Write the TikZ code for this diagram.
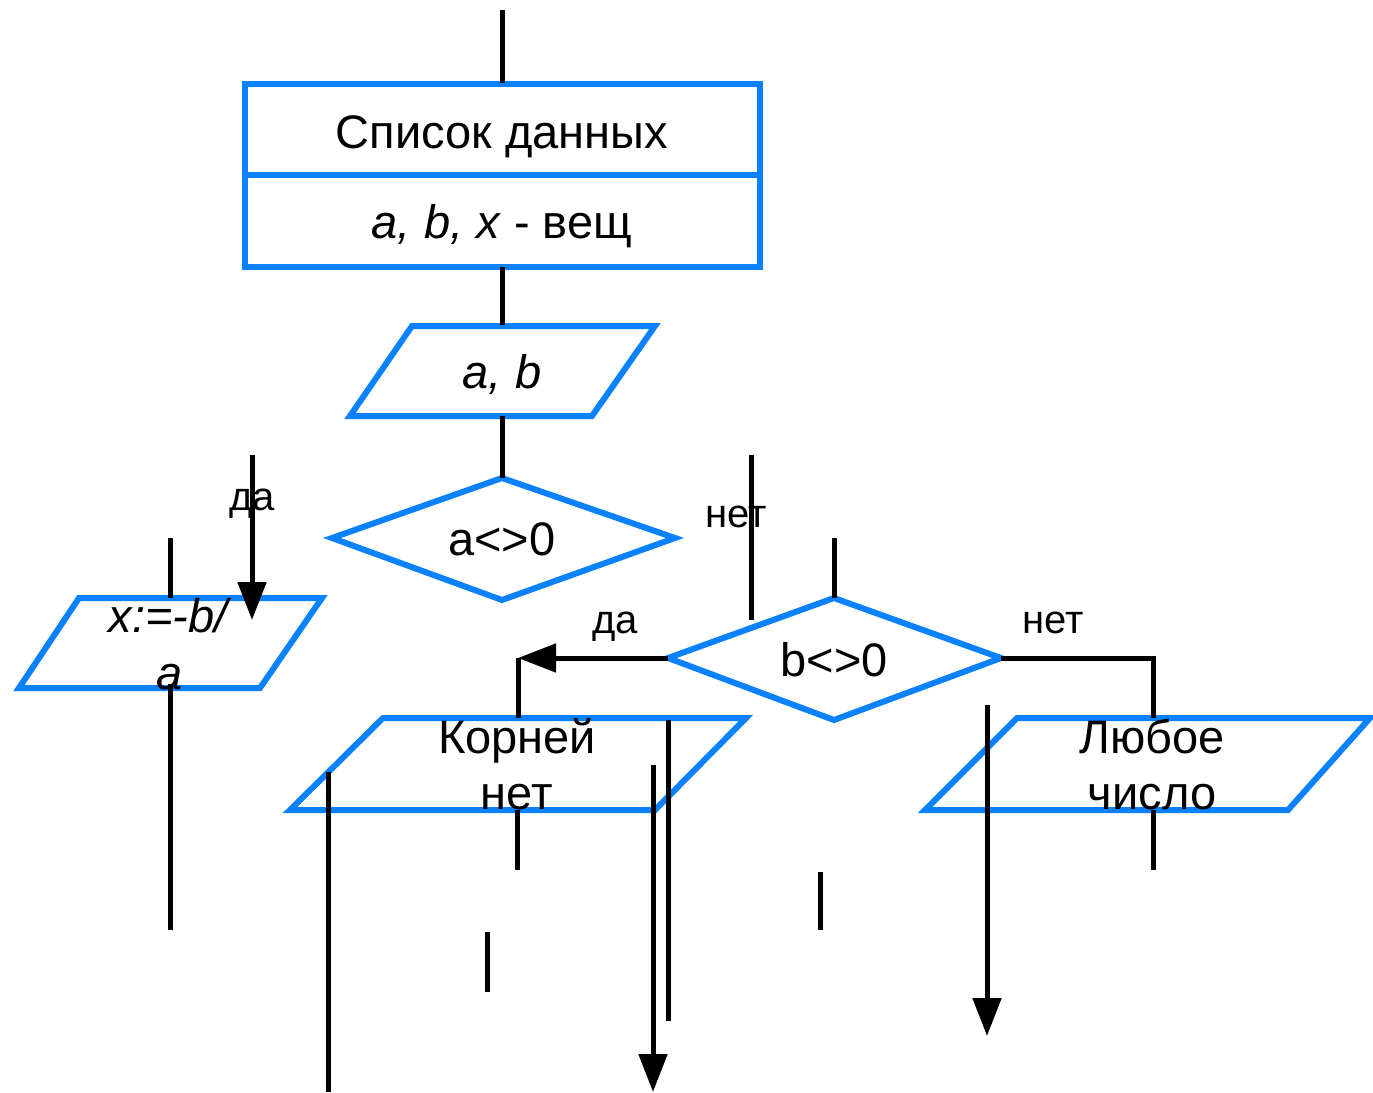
\documentclass[tikz,border=0pt]{standalone}
\usepackage{fontspec}
\setmainfont{Liberation Sans}
\usetikzlibrary{arrows.meta}
\definecolor{fcblue}{RGB}{10,130,255}
\begin{document}
\begin{tikzpicture}[x=1pt,y=-1pt,
  blk/.style={line width=6pt, draw=fcblue, line join=miter},
  con/.style={line width=5pt, draw=black},
  arr/.style={con, -{Triangle[length=38pt,width=28pt]}},
  txt/.style={font=\fontsize{47}{54}\selectfont, inner sep=0pt, anchor=base},
  lbl/.style={font=\fontsize{40}{46}\selectfont, inner sep=0pt, anchor=base}]
\useasboundingbox (0,0) rectangle (1373,1092);

% ---- shapes (blue) ----
\draw[blk] (245,84) rectangle (760,175);
\draw[blk] (245,175) rectangle (760,267);
\draw[blk] (412,326) -- (655,326) -- (592,416) -- (350,416) -- cycle;
\draw[blk] (502,478) -- (675,538) -- (502,600) -- (332,538) -- cycle;
\draw[blk] (79,598) -- (322,598) -- (260,688) -- (19,688) -- cycle;
\draw[blk] (834,598) -- (1001,658) -- (834,720) -- (668,658) -- cycle;
\draw[blk] (383,718) -- (746,718) -- (655,810) -- (290,810) -- cycle;
\draw[blk] (1017,718) -- (1370,718) -- (1288,810) -- (925,810) -- cycle;

% ---- named coordinates ----
\coordinate (t0) at (502,10);   \coordinate (t1) at (502,83);
\coordinate (r1) at (502,267);  \coordinate (r2) at (502,325);
\coordinate (p1) at (502,416);  \coordinate (p2) at (502,478);
\coordinate (dA) at (252,455);  \coordinate (dB) at (252,620);
\coordinate (s1) at (170,538);  \coordinate (s2) at (170,598);
\coordinate (x1) at (170,684);  \coordinate (x2) at (170,930);
\coordinate (n1) at (751,455);  \coordinate (n2) at (751,620);
\coordinate (b1) at (834,538);  \coordinate (b2) at (834,598);
\coordinate (bl) at (668,658);  \coordinate (bc) at (518,658);
\coordinate (bd) at (518,718);
\coordinate (br) at (1001,658); \coordinate (bk) at (1153,658);
\coordinate (bm) at (1153,718);
\coordinate (k1) at (517,810);  \coordinate (k2) at (517,870);
\coordinate (v1) at (668,720);  \coordinate (v2) at (668,1021);
\coordinate (w1) at (653,765);  \coordinate (w2) at (653,1092);
\coordinate (u1) at (328,772);  \coordinate (u2) at (328,1092);
\coordinate (q1) at (487,932);  \coordinate (q2) at (487,992);
\coordinate (m1) at (820,872);  \coordinate (m2) at (820,930);
\coordinate (l1) at (1153,810); \coordinate (l2) at (1153,870);
\coordinate (z1) at (987,705);  \coordinate (z2) at (987,1036);

% ---- connectors ----
\draw[con] (t0) -- (t1);
\draw[con] (r1) -- (r2);
\draw[con] (p1) -- (p2);
\draw[arr] (dA) -- (dB);
\draw[con] (s1) -- (s2);
\draw[con] (x1) -- (x2);
\draw[con] (n1) -- (n2);
\draw[con] (b1) -- (b2);
\draw[arr] (bl) -- (bc);
\draw[con] (bc) -- (bd);
\draw[con] (br) -- (bk) -- (bm);
\draw[con] (k1) -- (k2);
\draw[con] (v1) -- (v2);
\draw[arr] (w1) -- (w2);
\draw[con] (u1) -- (u2);
\draw[con] (q1) -- (q2);
\draw[con] (m1) -- (m2);
\draw[con] (l1) -- (l2);
\draw[arr] (z1) -- (z2);

% ---- texts ----
\node[txt] (T1) at (502,148) {Список данных};
\node[txt] (T2) at (502,238) {\textit{a, b, x} - вещ};
\node[txt] (T3) at (502,388) {\textit{a, b}};
\node[txt] (T4) at (502,555) {a<>0};
\node[txt] (T5) at (170,632) {\textit{x:=-b/}};
\node[txt] (T6) at (170,689) {\textit{a}};
\node[txt] (T7) at (834,676) {b<>0};
\node[txt] (T8) at (517,753) {Корней};
\node[txt] (T9) at (517,809) {нет};
\node[txt] (T10) at (1152,753) {Любое};
\node[txt] (T11) at (1152,809) {число};
\node[lbl] (L1) at (252,510) {да};
\node[lbl] (L2) at (736,527) {нет};
\node[lbl] (L3) at (615,633) {да};
\node[lbl] (L4) at (1053,633) {нет};
\end{tikzpicture}
\end{document}
